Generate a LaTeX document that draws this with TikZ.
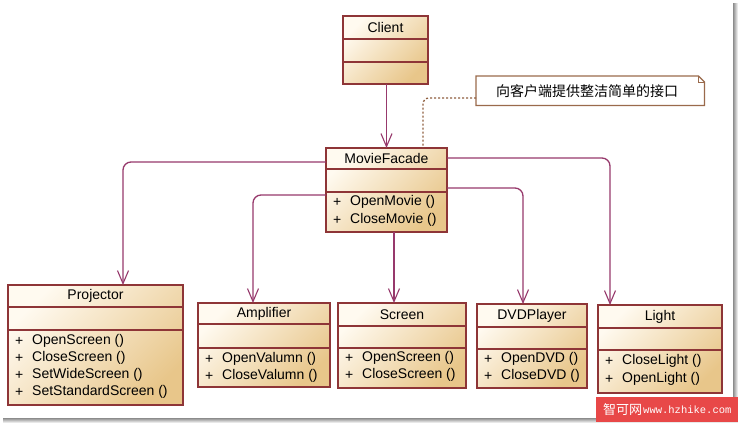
\documentclass[tikz,border=0pt]{standalone}
\usepackage{fontspec}
\setmainfont{Liberation Sans}
\newfontfamily\cjk{Noto Sans CJK SC}
\newfontfamily\wmmono{Liberation Mono}
\usetikzlibrary{arrows.meta}
\definecolor{boxred}{HTML}{8E3537}
\definecolor{lightfill}{HTML}{FFFAF0}
\definecolor{darkfill}{HTML}{E8C68A}
\definecolor{linkc}{HTML}{97396C}
\definecolor{notec}{HTML}{9A6A4C}
\definecolor{dotc}{HTML}{8F5F3F}
\definecolor{wmred}{HTML}{E84848}
\tikzset{
  cls/.style={draw=boxred, line width=1.2pt, inner sep=0pt, outer sep=0pt,
    top color=lightfill, bottom color=darkfill, shading angle=45},
  sep/.style={draw=boxred, line width=1.2pt},
  title/.style={font=\fontsize{14}{16}\selectfont, text=black, inner sep=0pt},
  meth/.style={font=\fontsize{14}{16}\selectfont, text=black, inner sep=0pt, anchor=west},
  link/.style={draw=linkc, line width=1.3pt, rounded corners=8pt,
    -{Straight Barb[length=13pt, width=11pt, line width=1.1pt]}},
  noteline/.style={draw=dotc, line width=1.3pt, dash pattern=on 2pt off 2pt, rounded corners=6pt},
}
% #1 name, #2 x, #3 y, #4 width, #5 height, #6 first sep, #7 second sep, #8 title
\newcommand{\umlbox}[8]{%
  \node[cls, minimum width=#4pt, minimum height=#5pt, anchor=north west] (#1) at (#2,#3) {};
  \draw[sep] ([yshift=-#6pt]#1.north west) -- ([yshift=-#6pt]#1.north east);
  \draw[sep] ([yshift=-#7pt]#1.north west) -- ([yshift=-#7pt]#1.north east);
  \node[title] (#1-t) at ([yshift=-#6pt/2]#1.north) {#8};
}
% #1 name of box, #2 tag, #3 y offset from top, #4 text
\newcommand{\umlmeth}[4]{%
  \node[meth] (#1-p#2) at ([xshift=7pt,yshift=-#3pt]#1.north west) {+};
  \node[meth] (#1-m#2) at ([xshift=24pt,yshift=-#3pt]#1.north west) {#4};
}
\begin{document}
\begin{tikzpicture}[x=1pt,y=-1pt]
\useasboundingbox (0,0) rectangle (738,423);
\fill[white] (0,0) rectangle (738,423);
% screenshot shadow
\shade[left color=gray!90, right color=white] (733,3) rectangle (738,423);
\shade[top color=gray!90, bottom color=white] (3,418) rectangle (738,423);

% classes
\umlbox{client}{343}{16}{85}{68}{23}{46}{Client}
\umlbox{facade}{326}{148}{121}{84}{21}{44}{MovieFacade}
\umlmeth{facade}{1}{54}{OpenMovie ()}
\umlmeth{facade}{2}{72}{CloseMovie ()}

\umlbox{proj}{8}{285}{175}{120}{22}{45}{Projector}
\umlmeth{proj}{1}{56}{OpenScreen ()}
\umlmeth{proj}{2}{73}{CloseScreen ()}
\umlmeth{proj}{3}{90}{SetWideScreen ()}
\umlmeth{proj}{4}{107}{SetStandardScreen ()}

\umlbox{amp}{198}{303}{132}{84}{21}{45}{Amplifier}
\umlmeth{amp}{1}{56}{OpenValumn ()}
\umlmeth{amp}{2}{73}{CloseValumn ()}

\umlbox{screen}{338}{303}{128}{85}{23}{45}{Screen}
\umlmeth{screen}{1}{55}{OpenScreen ()}
\umlmeth{screen}{2}{72}{CloseScreen ()}

\umlbox{dvd}{477}{304}{110}{84}{23}{45}{DVDPlayer}
\umlmeth{dvd}{1}{55}{OpenDVD ()}
\umlmeth{dvd}{2}{72}{CloseDVD ()}

\umlbox{light}{598}{305}{124}{88}{23}{45}{Light}
\umlmeth{light}{1}{56}{CloseLight ()}
\umlmeth{light}{2}{74}{OpenLight ()}

% note
\node[minimum width=228pt, minimum height=29pt, inner sep=0pt, anchor=north west] (note) at (476,76) {};
\draw[notec, line width=1.2pt, fill=white] (note.north west) -- ([xshift=-6pt]note.north east)
  -- ([yshift=-6pt]note.north east) -- (note.south east) -- (note.south west) -- cycle;
\draw[notec, line width=0.8pt] ([xshift=-6pt]note.north east) -- ([xshift=-6pt,yshift=-6pt]note.north east)
  -- ([yshift=-6pt]note.north east);
\node[font=\cjk\fontsize{14}{16}\selectfont, inner sep=0pt] (note-t) at ([xshift=-3pt]note.center) {向客户端提供整洁简单的接口};
\draw[noteline] ([yshift=-22pt]note.north west) -| ([xshift=97pt]facade.north west);

% connectors
\draw[link] (client.south -| facade-t.north) -- (facade.north -| facade-t.north);
\draw[link] ([yshift=-14pt]facade.north west) -| ([xshift=115pt]proj.north west);
\draw[link] ([yshift=-47pt]facade.north west) -| ([xshift=55pt]amp.north west);
\coordinate (sfrom) at ([xshift=68pt]facade.south west);
\draw[link] (sfrom) -- (sfrom |- screen.north);
\draw[link] ([yshift=-40pt]facade.north east) -| ([xshift=46pt]dvd.north west);
\draw[link] ([yshift=-10pt]facade.north east) -| ([xshift=12pt]light.north west);

% watermark
\node[fill=wmred, minimum width=142pt, minimum height=25pt, inner sep=0pt, anchor=north west] (wm) at (596,397) {};
\node[text=white, font=\cjk\fontsize{13}{14}\selectfont, anchor=west, inner sep=0pt] (wm-a) at ([xshift=7pt]wm.west) {智可网};
\node[text=white, font=\wmmono\fontsize{10.5}{12}\selectfont, anchor=west, inner sep=0pt] (wm-b) at ([xshift=47pt]wm.west) {www.hzhike.com};
\end{tikzpicture}
\end{document}
